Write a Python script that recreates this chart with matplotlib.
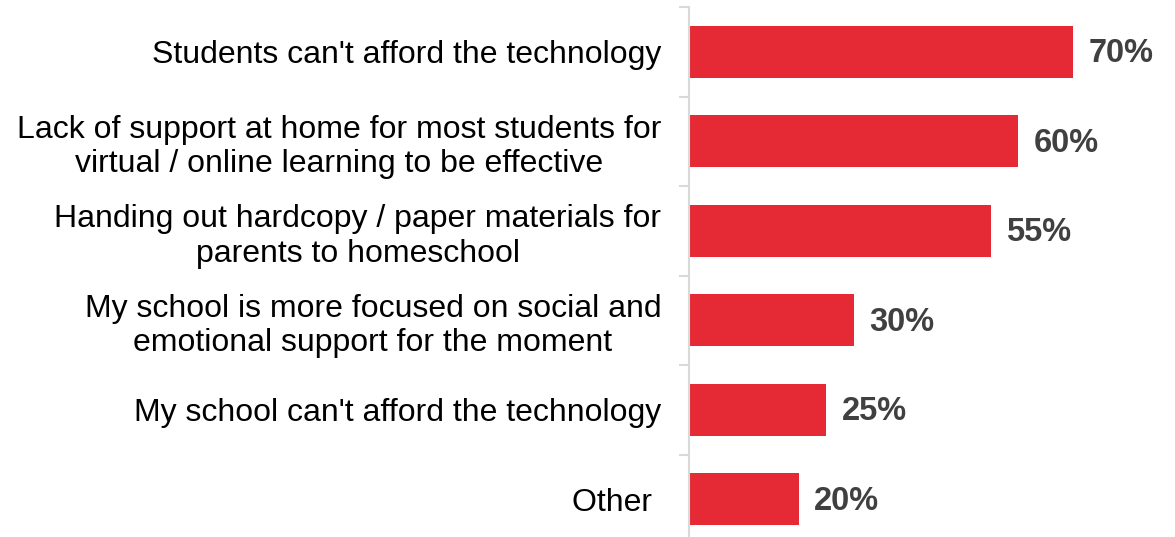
import numpy as np
import matplotlib.pyplot as plt
from matplotlib.ticker import FixedLocator

plt.rcParams['font.family'] = ['Liberation Sans', 'DejaVu Sans']

# Reasons schools gave for not moving to online learning
reasons = [
    "Students can't afford the technology",
    "Lack of support at home for most students for\nvirtual / online learning to be effective",
    "Handing out hardcopy / paper materials for\nparents to homeschool",
    "My school is more focused on social and\nemotional support for the moment",
    "My school can't afford the technology",
    "Other ",
]
shares = [70, 60, 55, 30, 25, 20]

bar_color = '#e52a36'
grid_color = '#d9d9d9'

fig = plt.figure(figsize=(11.75, 5.37), dpi=100)
ax = fig.add_axes([689 / 1175, -7 / 537, 486 / 1175, 537 / 537])

y = np.arange(len(reasons))
ax.barh(y, shares, height=0.58, color=bar_color)

for yi, v in zip(y, shares):
    ax.annotate(f"{v}%", (v, yi), xytext=(11, -1.5), textcoords='offset points',
                va='center', ha='left', fontsize=23.5, fontweight='bold',
                color='#404040')

ax.set_xlim(0, 88.6)
ax.set_ylim(len(reasons) - 0.5, -0.5)

ax.set_yticks(y)
ax.set_yticklabels(reasons, fontsize=23, color='#000000', linespacing=1.2,
                   multialignment='center')
ax.tick_params(axis='y', which='major', length=0, pad=20)
ax.yaxis.set_minor_locator(FixedLocator(np.arange(-0.5, len(reasons), 1.0)))
ax.tick_params(axis='y', which='minor', length=7, width=1.5, color=grid_color,
               direction='out')
ax.set_xticks([])

for side in ['top', 'right', 'bottom']:
    ax.spines[side].set_visible(False)
ax.spines['left'].set_color(grid_color)
ax.spines['left'].set_linewidth(1.5)

fig.savefig('out.png', dpi=100)
